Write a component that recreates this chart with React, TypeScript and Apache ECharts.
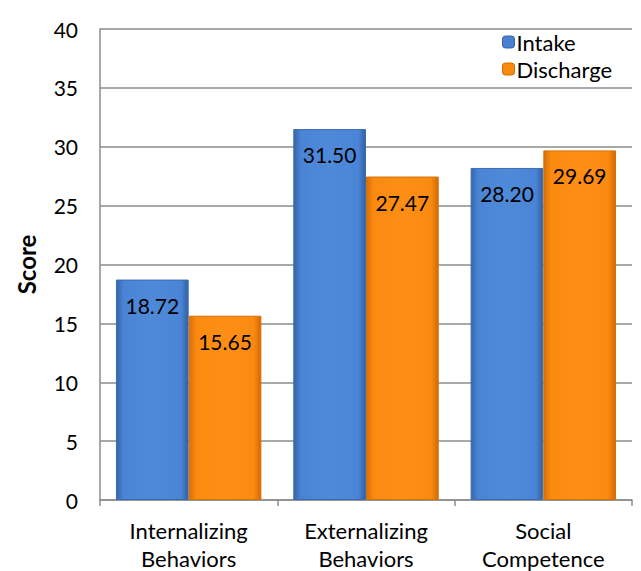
import React, { useEffect, useRef } from "react";
import * as echarts from "echarts";

const categories = ["Internalizing\nBehaviors", "Externalizing\nBehaviors", "Social\nCompetence"];
const intake = [18.72, 31.5, 28.2];
const discharge = [15.65, 27.47, 29.69];
const seriesNames = ["Intake", "Discharge"];

const FONT = "Lato, 'Open Sans', sans-serif";

export default function App() {
  const ref = useRef<HTMLDivElement>(null);
  useEffect(() => {
    const chart = echarts.init(ref.current!, undefined, { renderer: "svg" });
    const blue = new echarts.graphic.LinearGradient(0, 0, 1, 0, [
      { offset: 0, color: "#3565a8" },
      { offset: 0.1, color: "#4a84d6" },
      { offset: 0.5, color: "#4f8ad9" },
      { offset: 0.9, color: "#4a84d6" },
      { offset: 1, color: "#3360a0" },
    ]);
    const orange = new echarts.graphic.LinearGradient(0, 0, 1, 0, [
      { offset: 0, color: "#d86f05" },
      { offset: 0.1, color: "#fb8a10" },
      { offset: 0.5, color: "#ff8f14" },
      { offset: 0.9, color: "#fb8a10" },
      { offset: 1, color: "#d06a05" },
    ]);
    const label = {
      show: true,
      position: "insideTop" as const,
      distance: 15,
      color: "#000",
      fontSize: 21,
      fontFamily: FONT,
      formatter: (p: any) => Number(p.value).toFixed(2),
    };
    chart.setOption({
      animation: false,
      textStyle: { fontFamily: FONT },
      grid: { left: 100, right: 9, top: 29, bottom: 71, outerBoundsMode: "none", containLabel: false },
      legend: {
        orient: "vertical",
        left: 497,
        top: 26,
        itemWidth: 12,
        itemHeight: 12,
        itemGap: 5,
        textStyle: { fontSize: 22, color: "#000", fontFamily: FONT, padding: [0, 0, 0, -3] },
        data: [
          { name: seriesNames[0], itemStyle: { color: "#4a80cf", borderColor: "#3565a8", borderWidth: 1 } },
          { name: seriesNames[1], itemStyle: { color: "#f98a10", borderColor: "#d06a05", borderWidth: 1 } },
        ],
      },
      xAxis: {
        type: "category",
        data: categories,
        axisLine: { lineStyle: { color: "#8c8c8c", width: 1.5 } },
        axisTick: { show: true, length: 6, lineStyle: { color: "#8c8c8c", width: 1.5 } },
        axisLabel: { fontSize: 22, color: "#000", fontFamily: FONT, margin: 16, lineHeight: 28 },
      },
      yAxis: {
        type: "value",
        min: 0,
        max: 40,
        interval: 5,
        name: "Score",
        nameLocation: "middle",
        nameGap: 62,
        nameTextStyle: { fontSize: 24, fontWeight: "bold", color: "#000", fontFamily: FONT },
        axisLine: { show: true, lineStyle: { color: "#8c8c8c", width: 1.5 } },
        axisTick: { show: false },
        splitLine: { lineStyle: { color: "#8c8c8c", width: 1.5 } },
        axisLabel: { fontSize: 21, color: "#000", fontFamily: FONT, margin: 22 },
      },
      series: [
        {
          name: seriesNames[0],
          type: "bar",
          data: intake,
          barGap: "0%",
          barCategoryGap: "18%",
          itemStyle: { color: blue, borderColor: "#3a6cb3", borderWidth: 1 },
          label,
        },
        {
          name: seriesNames[1],
          type: "bar",
          data: discharge,
          itemStyle: { color: orange, borderColor: "#d47008", borderWidth: 1 },
          label,
        },
      ],
    });
    return () => chart.dispose();
  }, []);
  return (
    <div
      ref={ref}
      style={{ position: "fixed", left: 0, top: 0, width: 641, height: 571, background: "#fff" }}
    />
  );
}
